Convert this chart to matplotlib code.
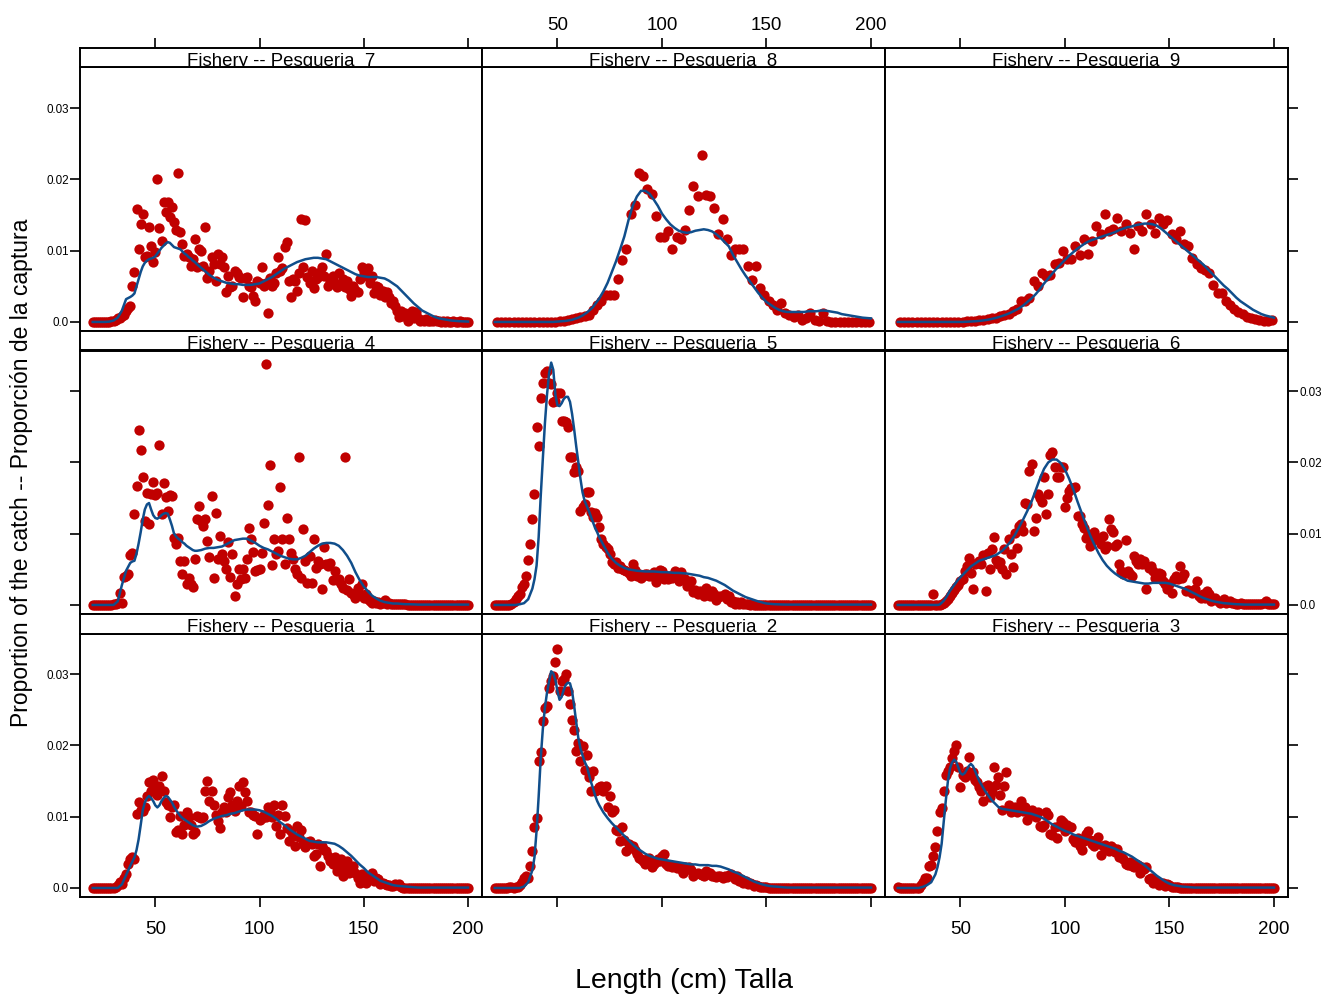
import numpy as np
import matplotlib.pyplot as plt

plt.rcParams['font.family'] = ['Liberation Sans', 'DejaVu Sans']

# length classes (cm)
len_1cm = np.arange(20, 201)          # fisheries 1-7
len_2cm = np.arange(21, 200, 2)       # fisheries 8, 9
len_fit = np.r_[np.arange(20, 39, 2), np.arange(39, 71), np.arange(72, 201, 2)]

obs_f1 = [0, 0, 0, 0, 0, 0, 0, 0, 0, 0, 0.05,
          0.2, 0.4, 0.9, 0.6, 1.4, 1.9, 3.3, 4.0, 4.3, 4.0,
          10.4, 12.1, 11.0, 10.8, 11.3, 12.9, 14.8, 13.6, 15.2, 14.1,
          13.1, 14.3, 15.7, 13.6, 12.0, 11.7, 9.9, 11.3, 11.7, 7.8,
          8.2, 10.1, 7.5, 8.9, 10.6, 9.9, 8.9, 7.6, 7.8, 10.1,
          9.9, 9.8, 9.9, 13.6, 15.0, 12.2, 13.6, 11.7, 10.3, 9.4,
          8.4, 10.6, 11.3, 10.6, 12.7, 13.4, 11.7, 10.8, 12.2, 14.3,
          11.5, 14.8, 13.4, 12.2, 10.6, 10.6, 10.3, 10.1, 7.6, 9.6,
          9.8, 10.3, 9.9, 11.3, 11.0, 9.9, 11.7, 8.7, 10.3, 7.6,
          11.7, 10.1, 8.4, 6.6, 8.0, 7.3, 5.9, 8.7, 7.1, 8.2,
          6.1, 5.7, 6.4, 6.6, 6.1, 4.5, 4.7, 6.1, 3.1, 5.9,
          5.3, 5.2, 4.5, 3.8, 3.3, 4.3, 2.4, 3.3, 4.0, 1.7,
          2.8, 3.8, 2.1, 2.9, 3.1, 2.1, 1.4, 0.7, 1.9, 1.4,
          0.7, 1.7, 1.4, 2.1, 1.0, 1.4, 1.2, 0.5, 0.7, 0.5,
          0.4, 0.4, 0.3, 0.3, 0.5, 0.4, 0.6, 0.1, 0.05, 0,
          0, 0, 0, 0, 0, 0, 0, 0, 0, 0,
          0, 0, 0, 0, 0, 0, 0, 0, 0, 0,
          0, 0, 0, 0, 0, 0, 0, 0, 0, 0]

obs_f2 = [0, 0, 0, 0, 0, 0, 0, 0.2, 0.1, 0.05, 0.1,
          0.2, 0.4, 0.9, 1.4, 1.7, 1.4, 3.1, 5.2, 8.6, 9.8,
          17.8, 19.1, 23.4, 25.3, 25.5, 28.1, 29.0, 29.7, 31.7, 33.5,
          27.7, 29.0, 29.3, 30.0, 27.6, 25.8, 23.6, 22.1, 19.2, 20.3,
          17.8, 19.9, 16.5, 18.7, 15.5, 13.6, 16.4, 13.6, 13.8, 14.1,
          14.3, 13.6, 14.3, 11.3, 12.9, 10.6, 11.0, 8.2, 8.0, 6.6,
          8.6, 6.7, 5.2, 6.1, 5.7, 5.9, 5.3, 4.7, 4.2, 4.0,
          3.8, 3.3, 4.0, 4.2, 2.9, 3.3, 3.6, 4.0, 3.8, 4.5,
          4.7, 3.3, 3.1, 3.2, 2.9, 3.1, 2.8, 2.9, 2.6, 2.1,
          2.9, 2.6, 2.9, 2.5, 1.7, 1.9, 2.1, 1.9, 1.8, 1.7,
          2.4, 1.9, 2.1, 1.7, 1.7, 1.5, 1.7, 1.7, 1.4, 1.7,
          1.5, 1.8, 1.9, 1.7, 1.2, 1.7, 1.0, 1.2, 0.7, 1.0,
          0.5, 0.7, 0.5, 0.3, 0.4, 0.3, 0.2, 0.1, 0.1, 0.1,
          0.05, 0.05, 0, 0, 0, 0, 0, 0, 0, 0,
          0, 0, 0, 0, 0, 0, 0, 0, 0, 0,
          0, 0, 0, 0, 0, 0, 0, 0, 0, 0,
          0, 0, 0, 0, 0, 0, 0, 0, 0, 0,
          0, 0, 0, 0, 0, 0, 0, 0, 0, 0]

obs_f3 = [0.1, 0, 0, 0, 0, 0, 0, 0, 0, 0, 0,
          0.4, 0.9, 1.4, 1.4, 3.1, 3.2, 4.5, 5.7, 8.0, 10.6,
          11.2, 13.6, 15.9, 16.4, 16.9, 18.3, 19.2, 20.0, 16.9, 14.2,
          15.9, 15.5, 16.4, 18.4, 15.9, 16.3, 15.2, 14.8, 14.1, 13.6,
          12.2, 14.3, 14.5, 12.8, 13.4, 16.9, 14.5, 15.5, 13.1, 10.9,
          14.3, 16.3, 11.6, 10.7, 10.9, 11.4, 10.6, 10.9, 12.2, 10.8,
          11.3, 9.6, 10.6, 10.9, 10.2, 9.9, 10.6, 8.7, 8.5, 8.9,
          10.6, 10.3, 7.6, 7.4, 8.5, 7.0, 8.7, 9.6, 9.2, 8.0,
          8.9, 8.5, 8.6, 6.8, 6.4, 7.0, 5.9, 5.3, 6.6, 7.5,
          8.0, 6.7, 6.1, 5.9, 6.7, 7.1, 4.6, 5.9, 6.0, 5.6,
          5.2, 5.9, 5.6, 5.0, 5.4, 4.3, 4.5, 4.0, 3.3, 3.2,
          3.7, 3.1, 2.9, 3.4, 3.2, 2.1, 2.9, 2.6, 2.9, 1.2,
          1.4, 0.7, 1.0, 0.7, 0.4, 0.5, 0.7, 0.3, 0.6, 0.4,
          0.2, 0.2, 0.1, 0.1, 0.05, 0, 0, 0, 0, 0,
          0, 0, 0, 0, 0, 0, 0, 0, 0, 0,
          0, 0, 0, 0, 0, 0, 0, 0, 0, 0,
          0, 0, 0, 0, 0, 0, 0, 0, 0, 0,
          0, 0, 0, 0, 0, 0, 0, 0, 0, 0]

obs_f4 = [0, 0, 0, 0, 0, 0, 0, 0, 0, 0, 0.2,
          0.2, 0.3, 1.7, 0.3, 3.9, 4.1, 4.4, 7.0, 7.3, 12.7,
          16.7, 24.6, 21.8, 17.9, 11.8, 15.7, 11.3, 15.5, 17.3, 15.4,
          15.7, 22.5, 12.7, 17.1, 15.2, 13.2, 15.4, 15.3, 9.4, 8.6,
          9.4, 6.2, 4.3, 6.2, 2.9, 3.8, 3.0, 2.5, 6.5, 12.1,
          13.9, 11.8, 11.1, 12.1, 9.0, 6.7, 15.3, 3.8, 12.9, 6.5,
          9.7, 7.1, 6.2, 5.1, 8.9, 3.9, 7.1, 1.3, 2.9, 5.1,
          3.7, 5.1, 3.8, 6.4, 10.8, 9.2, 7.4, 4.8, 4.9, 5.0,
          7.3, 11.5, 33.8, 14.0, 19.7, 5.6, 9.3, 7.1, 7.6, 16.6,
          9.3, 5.7, 12.2, 9.3, 7.3, 6.4, 5.1, 4.3, 20.7, 3.8,
          10.7, 6.2, 3.1, 6.9, 3.1, 9.3, 5.2, 6.2, 5.7, 2.2,
          8.1, 5.7, 5.5, 5.9, 3.5, 4.8, 3.5, 3.6, 2.9, 2.4,
          20.7, 2.1, 3.7, 1.7, 1.5, 1.0, 2.4, 1.5, 2.9, 1.0,
          1.5, 0.8, 0.6, 0.3, 0.5, 0.3, 0.4, 0.2, 0.3, 0.7,
          0.2, 0.3, 0.2, 0.1, 0.2, 0.1, 0.1, 0.2, 0.1, 0.1,
          0, 0, 0, 0, 0, 0, 0, 0, 0, 0,
          0, 0, 0, 0, 0, 0, 0, 0, 0, 0,
          0, 0, 0, 0, 0, 0, 0, 0, 0, 0]

obs_f5 = [0, 0, 0, 0, 0, 0, 0, 0, 0.1, 0.4, 0.8,
          1.3, 1.5, 2.5, 2.9, 4.0, 6.3, 8.5, 12.1, 15.5, 25.0,
          22.3, 29.0, 31.2, 32.5, 32.8, 31.1, 31.0, 28.5, 28.6, 29.8,
          29.7, 25.8, 25.8, 25.6, 24.9, 20.8, 20.7, 18.6, 19.3, 18.8,
          13.2, 13.7, 14.2, 15.9, 15.8, 13.0, 12.4, 12.9, 12.3, 10.9,
          9.3, 8.6, 8.1, 7.9, 7.1, 6.0, 5.7, 6.0, 5.2, 5.5,
          5.0, 4.9, 4.8, 4.5, 4.1, 5.8, 4.9, 4.1, 4.4, 3.8,
          4.0, 4.3, 4.3, 4.0, 4.1, 4.6, 3.2, 3.9, 4.9, 4.7,
          3.6, 4.1, 3.6, 4.1, 3.8, 4.7, 4.0, 3.4, 4.6, 3.6,
          3.6, 2.7, 2.9, 3.4, 1.8, 2.1, 1.5, 2.0, 1.8, 1.3,
          2.4, 1.6, 1.3, 2.0, 1.5, 0.7, 1.1, 1.3, 1.2, 1.5,
          0.8, 1.3, 0.4, 0.5, 0.2, 0.4, 0.1, 0.4, 0.2, 0.1,
          0.1, 0.05, 0.1, 0, 0, 0.05, 0, 0, 0, 0,
          0, 0, 0, 0, 0, 0, 0, 0, 0, 0,
          0, 0, 0, 0, 0, 0, 0, 0, 0, 0,
          0, 0, 0, 0, 0, 0, 0, 0, 0, 0,
          0, 0, 0, 0, 0, 0, 0, 0, 0, 0,
          0, 0, 0, 0, 0, 0, 0, 0, 0, 0]

obs_f6 = [0, 0, 0, 0, 0, 0, 0, 0, 0, 0, 0,
          0, 0, 0, 0, 0, 0, 1.5, 0, 0, 0,
          0.1, 0.3, 0.5, 0.8, 1.3, 1.7, 2.1, 2.5, 2.8, 3.3,
          3.6, 4.7, 5.5, 6.6, 4.5, 2.2, 5.7, 5.9, 6.2, 5.7,
          7.0, 2.0, 7.3, 5.1, 7.8, 9.5, 6.3, 5.7, 6.0, 5.0,
          7.9, 4.3, 9.2, 7.2, 5.3, 10.1, 8.0, 11.1, 11.3, 10.4,
          14.3, 14.1, 18.8, 19.8, 10.4, 12.2, 15.5, 15.0, 14.5, 17.9,
          12.7, 15.6, 21.1, 21.4, 19.3, 17.9, 17.9, 19.3, 19.3, 13.7,
          15.0, 16.0, 16.4, 16.4, 16.5, 12.5, 12.5, 11.3, 10.8, 9.4,
          10.0, 8.3, 9.0, 10.3, 9.2, 9.4, 8.5, 9.7, 7.8, 8.3,
          12.0, 10.6, 10.3, 8.3, 8.5, 5.7, 4.8, 4.3, 9.1, 4.8,
          4.4, 4.1, 6.9, 6.2, 5.7, 6.4, 5.7, 6.1, 2.3, 5.2,
          5.5, 4.8, 3.8, 4.2, 4.5, 4.3, 3.4, 2.9, 2.2, 2.9,
          1.7, 3.7, 4.1, 3.6, 5.5, 3.8, 4.3, 2.0, 2.1, 2.0,
          1.7, 2.2, 3.4, 1.2, 1.0, 1.5, 1.0, 2.0, 1.5, 0.6,
          0.8, 1.0, 0.6, 0.3, 0.5, 0.8, 0.3, 0.4, 0.5, 0.3,
          0.3, 0.2, 0.2, 0.3, 0.2, 0.1, 0.2, 0.1, 0.1, 0.2,
          0.1, 0.1, 0.1, 0.1, 0.3, 0.5, 0.2, 0.1, 0.1, 0.1]

obs_f7 = [0, 0, 0, 0, 0, 0, 0, 0, 0, 0.1, 0.2,
          0.3, 0.5, 0.6, 0.8, 1.0, 1.5, 2.0, 2.2, 5.0, 7.0,
          15.8, 10.3, 13.8, 15.2, 9.1, 9.3, 13.3, 10.7, 8.4, 9.8,
          20.1, 13.2, 11.4, 16.8, 15.4, 16.8, 14.7, 16.1, 14.0, 12.9,
          20.9, 12.6, 11.0, 9.3, 9.6, 9.1, 7.9, 8.9, 11.7, 7.7,
          10.3, 10.0, 7.9, 13.3, 6.1, 7.2, 9.1, 8.2, 5.8, 9.6,
          8.2, 9.1, 7.7, 4.2, 6.5, 4.9, 5.1, 7.2, 6.8, 6.3,
          6.1, 3.5, 6.1, 6.3, 5.1, 4.9, 3.7, 3.0, 5.8, 5.4,
          7.7, 5.1, 5.4, 1.2, 6.1, 5.1, 5.4, 6.8, 9.1, 7.2,
          7.5, 10.5, 11.2, 5.8, 3.5, 6.0, 5.8, 4.4, 6.8, 14.5,
          7.7, 14.3, 6.3, 5.5, 7.2, 4.7, 6.0, 6.3, 7.0, 7.7,
          6.5, 9.5, 5.1, 5.8, 6.5, 5.5, 4.9, 6.8, 5.2, 6.0,
          4.9, 5.8, 4.6, 3.7, 5.1, 4.5, 4.2, 6.0, 7.7, 7.0,
          6.4, 7.5, 5.4, 6.5, 4.0, 5.0, 4.9, 3.8, 4.4, 3.5,
          4.2, 3.5, 2.6, 3.0, 2.3, 1.5, 0.7, 1.6, 0.9, 1.2,
          0.2, 0.8, 1.6, 0.5, 1.4, 0.6, 0.2, 0.3, 0.1, 0.4,
          0.2, 0.1, 0.1, 0.3, 0.2, 0.1, 0, 0.1, 0, 0.1,
          0, 0, 0.1, 0, 0, 0.1, 0, 0, 0, 0]

obs_f8 = [0, 0, 0, 0, 0, 0, 0, 0, 0, 0,
          0, 0, 0, 0, 0, 0.1, 0.15, 0.3, 0.4, 0.5,
          0.7, 0.9, 1.0, 1.7, 2.4, 2.9, 3.8, 3.8, 3.8, 6.0,
          8.7, 10.3, 15.1, 16.4, 20.9, 20.5, 18.6, 17.9, 14.8, 11.9,
          11.9, 12.8, 10.3, 11.9, 11.6, 12.9, 15.7, 19.1, 17.7, 23.4,
          17.8, 17.7, 16.0, 12.4, 14.4, 11.7, 9.4, 10.2, 10.2, 10.2,
          7.8, 5.9, 7.8, 4.7, 3.8, 2.9, 2.4, 1.7, 2.6, 1.2,
          1.0, 0.7, 1.0, 0.3, 0.5, 1.2, 0.3, 0.1, 1.2, 0.1,
          0, 0, 0, 0, 0, 0, 0, 0, 0, 0]

obs_f9 = [0, 0, 0, 0, 0, 0, 0, 0, 0, 0,
          0, 0, 0, 0, 0.05, 0.05, 0.1, 0.1, 0.2, 0.3,
          0.3, 0.4, 0.5, 0.6, 0.8, 1.0, 1.1, 1.6, 1.8, 2.9,
          3.0, 3.3, 5.8, 5.0, 6.9, 6.4, 6.6, 8.1, 8.3, 9.9,
          8.8, 8.9, 10.7, 9.4, 11.7, 9.6, 11.4, 13.5, 12.3, 15.1,
          12.7, 13.0, 14.6, 12.8, 13.7, 12.5, 10.2, 13.5, 12.8, 15.1,
          13.7, 12.5, 14.6, 13.7, 14.3, 12.4, 11.7, 12.8, 11.0, 10.7,
          9.0, 8.2, 7.6, 7.3, 6.8, 5.2, 4.0, 4.0, 2.9, 2.4,
          1.8, 1.4, 1.1, 0.7, 0.6, 0.4, 0.3, 0.2, 0.2, 0.3]

# fitted (expected) proportion, x 1000, at len_fit
fit_f1 = [0, 0, 0, 0, 0, 0, 0, 0.5, 1.8, 3.1,
          3.7, 4.3, 5.3, 6.8, 8.8, 10.9, 12.0, 12.6, 12.9, 12.6, 12.2, 11.6, 11.3, 11.6, 12.2, 12.6,
          12.9, 12.8, 12.4, 12.0, 11.4, 10.9, 10.5, 10.1, 9.8, 9.6, 9.4, 9.2, 9.0, 8.8, 8.7, 8.6,
          8.7, 9.0, 9.4, 9.7, 9.9, 10.1, 10.2, 10.4, 10.5, 10.7,
          10.9, 11.0, 11.0, 11.0, 10.9, 10.7, 10.4, 10.1, 9.7, 9.2,
          8.8, 8.3, 7.9, 7.5, 7.2, 6.9, 6.6, 6.5, 6.4, 6.4,
          6.4, 6.3, 6.2, 5.9, 5.5, 5.0, 4.5, 3.9, 3.3, 2.8,
          2.2, 1.8, 1.4, 1.0, 0.8, 0.6, 0.4, 0.3, 0.25, 0.2,
          0.15, 0.1, 0.05, 0.05, 0.05, 0.05, 0.05, 0.05, 0.05, 0.05,
          0.05, 0.05, 0.05, 0.05, 0.05]

fit_f2 = [0, 0, 0, 0, 0, 0, 0, 0.2, 0.8, 2.5,
          4.3, 8.0, 12.8, 18.2, 22.3, 25.3, 27.4, 29.0, 30.4, 30.1, 29.2, 27.6, 26.4, 26.8, 27.8, 28.5,
          28.8, 28.7, 27.6, 25.5, 23.2, 21.0, 19.6, 18.6, 17.7, 17.1, 16.0, 14.9, 14.0, 13.0, 12.2, 11.6,
          10.6, 9.8, 9.1, 8.5, 7.9, 7.3, 6.7, 6.1, 5.6, 5.2,
          4.8, 4.5, 4.3, 4.1, 4.0, 3.9, 3.8, 3.7, 3.6, 3.5,
          3.4, 3.3, 3.3, 3.2, 3.2, 3.2, 3.1, 3.1, 3.0, 2.8,
          2.6, 2.3, 2.1, 1.8, 1.5, 1.2, 0.9, 0.7, 0.5, 0.35,
          0.25, 0.2, 0.15, 0.1, 0.05, 0.05, 0.05, 0.05, 0.05, 0.05,
          0.05, 0.05, 0.05, 0.05, 0.05, 0.05, 0.05, 0.05, 0.05, 0.05,
          0.05, 0.05, 0.05, 0.05, 0.05]

fit_f3 = [0, 0, 0, 0, 0, 0, 0.15, 0.4, 0.8, 1.9,
          2.9, 4.3, 6.2, 9.3, 12.3, 15.0, 16.8, 17.6, 18.0, 17.7, 16.9, 16.1, 15.9, 16.1, 16.6, 17.1,
          17.4, 17.1, 16.4, 15.7, 15.0, 14.5, 14.0, 13.5, 13.1, 12.7, 12.3, 12.0, 11.7, 11.4, 11.2, 11.1,
          11.0, 10.9, 10.8, 10.7, 10.6, 10.5, 10.4, 10.2, 10.0, 9.7,
          9.3, 8.9, 8.6, 8.3, 8.0, 7.8, 7.5, 7.3, 7.1, 6.9,
          6.7, 6.5, 6.3, 6.1, 5.9, 5.7, 5.5, 5.2, 5.0, 4.7,
          4.4, 4.0, 3.6, 3.2, 2.7, 2.2, 1.7, 1.3, 0.9, 0.6,
          0.4, 0.3, 0.2, 0.15, 0.1, 0.05, 0.05, 0.05, 0.05, 0.05,
          0.05, 0.05, 0.05, 0.05, 0.05, 0.05, 0.05, 0.05, 0.05, 0.05,
          0.05, 0.05, 0.05, 0.05, 0.05]

fit_f4 = [0, 0, 0, 0, 0, 0, 0.5, 2.8, 4.8, 5.9,
          6.1, 6.2, 7.2, 8.6, 10.2, 12.0, 13.4, 14.1, 14.3, 13.4, 12.6, 12.2, 12.1, 12.3, 12.6, 12.8,
          12.9, 12.8, 12.0, 11.1, 10.0, 9.6, 9.3, 9.1, 8.8, 8.6, 8.3, 8.1, 7.9, 7.7, 7.6, 7.6,
          7.7, 7.9, 8.0, 8.0, 8.1, 8.2, 8.5, 8.8, 9.1, 9.2,
          9.3, 9.3, 9.0, 8.7, 8.3, 8.0, 7.8, 7.5, 7.2, 6.9,
          6.7, 6.5, 6.4, 6.4, 6.6, 6.9, 7.4, 7.9, 8.3, 8.6,
          8.7, 8.7, 8.6, 8.3, 7.7, 6.9, 5.9, 4.6, 3.5, 2.6,
          1.9, 1.3, 0.9, 0.6, 0.4, 0.3, 0.2, 0.2, 0.15, 0.1,
          0.1, 0.08, 0.05, 0.05, 0.05, 0.05, 0.05, 0.05, 0.05, 0.05,
          0.05, 0.05, 0.05, 0.05, 0.05]

fit_f5 = [0, 0, 0, 0, 0, 0, 0.1, 0.25, 0.8, 2.3,
          3.6, 5.5, 9.5, 15.3, 20.5, 25.5, 29.5, 32.5, 34.0, 33.0, 29.5, 28.0, 27.9, 28.3, 28.9, 29.2,
          29.2, 28.5, 26.8, 24.6, 22.2, 20.0, 17.7, 15.8, 14.6, 13.9, 13.2, 12.4, 11.6, 10.8, 10.2, 9.5,
          8.4, 7.3, 6.5, 5.9, 5.5, 5.2, 5.0, 4.9, 4.8, 4.75,
          4.7, 4.7, 4.7, 4.65, 4.6, 4.6, 4.55, 4.5, 4.5, 4.45,
          4.4, 4.3, 4.2, 4.1, 3.9, 3.8, 3.6, 3.4, 3.1, 2.8,
          2.4, 2.0, 1.7, 1.4, 1.1, 0.9, 0.7, 0.5, 0.35, 0.2,
          0.15, 0.1, 0.08, 0.06, 0.05, 0.05, 0.05, 0.05, 0.05, 0.05,
          0.05, 0.05, 0.05, 0.05, 0.05, 0.05, 0.05, 0.05, 0.05, 0.05,
          0.05, 0.05, 0.05, 0.05, 0.05]

fit_f6 = [0, 0, 0, 0, 0, 0, 0, 0, 0, 0,
          0, 0.05, 0.3, 0.6, 1.0, 1.5, 2.0, 2.4, 2.8, 3.2, 3.6, 3.9, 4.2, 4.5, 4.8, 5.1,
          5.4, 5.6, 5.8, 6.0, 6.2, 6.3, 6.4, 6.5, 6.6, 6.7, 6.8, 6.9, 7.0, 7.2, 7.4, 7.6,
          8.2, 8.9, 9.8, 10.9, 12.0, 13.2, 14.5, 16.1, 17.7, 19.1,
          20.0, 20.4, 20.4, 19.9, 19.0, 17.7, 16.2, 14.5, 12.9, 11.3,
          9.8, 8.5, 7.3, 6.3, 5.5, 4.9, 4.4, 4.0, 3.7, 3.4,
          3.3, 3.2, 3.1, 3.0, 3.0, 3.1, 3.1, 3.1, 3.1, 3.0,
          2.8, 2.6, 2.4, 2.2, 1.9, 1.6, 1.3, 1.0, 0.8, 0.6,
          0.45, 0.35, 0.25, 0.2, 0.15, 0.1, 0.08, 0.05, 0.05, 0.05,
          0.05, 0.05, 0.05, 0.05, 0.05]

fit_f7 = [0, 0, 0, 0, 0.05, 0.2, 0.6, 1.6, 3.2, 3.5,
          3.7, 4.0, 5.0, 6.0, 7.0, 7.8, 8.3, 8.6, 8.8, 8.9, 9.0, 9.2, 9.6, 10.0, 10.4, 10.7,
          11.0, 11.2, 11.1, 10.8, 10.5, 10.4, 10.3, 10.2, 9.9, 9.6, 9.4, 9.1, 8.9, 8.6, 8.4, 8.1,
          7.6, 7.1, 6.6, 6.2, 5.9, 5.7, 5.5, 5.4, 5.3, 5.3,
          5.2, 5.2, 5.2, 5.3, 5.4, 5.7, 6.0, 6.3, 6.7, 7.1,
          7.5, 7.8, 8.1, 8.4, 8.6, 8.8, 8.9, 9.0, 9.0, 8.9,
          8.8, 8.5, 8.2, 7.9, 7.6, 7.3, 7.0, 6.7, 6.5, 6.4,
          6.3, 6.3, 6.3, 6.2, 6.1, 5.8, 5.4, 5.0, 4.4, 3.8,
          3.2, 2.6, 2.1, 1.6, 1.3, 1.0, 0.7, 0.5, 0.4, 0.3,
          0.2, 0.15, 0.1, 0.08, 0.05]

fit_f8 = [0, 0, 0, 0, 0, 0, 0, 0, 0, 0,
          0, 0, 0, 0, 0, 0, 0, 0, 0, 0, 0.03, 0.05, 0.07, 0.1, 0.12, 0.15,
          0.2, 0.25, 0.3, 0.4, 0.5, 0.6, 0.75, 0.9, 1.1, 1.3, 1.55, 1.8, 2.1, 2.5, 2.9, 3.3,
          4.3, 5.5, 7.0, 8.5, 10.2, 12.0, 14.3, 16.3, 17.6, 18.4,
          18.4, 18.0, 17.2, 16.3, 15.2, 14.4, 13.7, 13.2, 12.8, 12.6,
          12.5, 12.6, 12.8, 12.9, 13.0, 12.9, 12.7, 12.3, 11.8, 11.2,
          10.6, 9.4, 8.4, 7.4, 6.5, 5.7, 4.9, 4.1, 3.4, 2.8,
          2.4, 2.0, 1.7, 1.5, 1.4, 1.4, 1.4, 1.4, 1.4, 1.5,
          1.5, 1.5, 1.6, 1.6, 1.5, 1.4, 1.3, 1.1, 1.0, 0.9,
          0.8, 0.7, 0.6, 0.55, 0.5]

fit_f9 = [0, 0, 0, 0, 0, 0, 0, 0, 0, 0,
          0, 0, 0, 0, 0, 0, 0, 0, 0, 0, 0, 0, 0, 0.02, 0.03, 0.05,
          0.06, 0.08, 0.1, 0.12, 0.15, 0.18, 0.22, 0.26, 0.31, 0.36, 0.43, 0.5, 0.57, 0.65, 0.75, 0.85,
          1.05, 1.3, 1.6, 1.9, 2.3, 2.8, 3.3, 3.9, 4.6, 5.4,
          6.1, 6.8, 7.5, 8.1, 8.7, 9.3, 9.8, 10.3, 10.7, 11.1,
          11.4, 11.6, 11.8, 12.0, 12.2, 12.4, 12.6, 12.9, 13.1, 13.3,
          13.4, 13.6, 13.7, 13.8, 13.8, 13.7, 13.5, 13.1, 12.6, 12.1,
          11.6, 11.1, 10.6, 10.1, 9.6, 9.1, 8.6, 8.1, 7.5, 6.9,
          6.3, 5.7, 5.1, 4.6, 4.0, 3.4, 2.9, 2.5, 2.1, 1.7,
          1.4, 1.1, 0.9, 0.75, 0.6]

observed = {1: (len_1cm, obs_f1), 2: (len_1cm, obs_f2), 3: (len_1cm, obs_f3),
            4: (len_1cm, obs_f4), 5: (len_1cm, obs_f5), 6: (len_1cm, obs_f6),
            7: (len_1cm, obs_f7), 8: (len_2cm, obs_f8), 9: (len_2cm, obs_f9)}
fitted = {1: fit_f1, 2: fit_f2, 3: fit_f3, 4: fit_f4, 5: fit_f5,
          6: fit_f6, 7: fit_f7, 8: fit_f8, 9: fit_f9}
layout = [[7, 8, 9], [4, 5, 6], [1, 2, 3]]

W, H = 1322, 997
col_left = [80, 482, 885]
col_w = [402, 403, 403]
row_top = [48, 331, 614]
strip_h = 19.5
pan_h = 263.5
dot_col = '#C00000'
line_col = '#104E8B'

fig = plt.figure(figsize=(W / 100, H / 100), dpi=100)

for r in range(3):
    for c in range(3):
        n = layout[r][c]
        ax = fig.add_axes([col_left[c] / W, (H - row_top[r] - strip_h - pan_h) / H,
                           col_w[c] / W, pan_h / H])
        sx = fig.add_axes([col_left[c] / W, (H - row_top[r] - strip_h) / H,
                           col_w[c] / W, strip_h / H], sharex=ax)

        x, y = observed[n]
        ax.plot(x, np.array(y) / 1000, 'o', ms=7.4, mfc=dot_col, mec='none', zorder=2)
        ax.plot(len_fit, np.array(fitted[n]) / 1000, color=line_col, lw=1.8, zorder=3)

        ax.set_xlim(13.9, 206.7)
        ax.set_ylim(-0.00127, 0.0357)
        ax.set_xticks([50, 100, 150, 200])
        ax.set_yticks([0, 0.01, 0.02, 0.03])
        ax.set_yticklabels(['0.0', '0.01', '0.02', '0.03'])

        for a in (ax, sx):
            for s in a.spines.values():
                s.set_linewidth(1.4)
            a.tick_params(which='both', direction='out', length=7.2, width=1.2,
                          bottom=False, top=False, left=False, right=False,
                          labelbottom=False, labeltop=False,
                          labelleft=False, labelright=False)
        ax.tick_params(axis='x', labelsize=13.5, pad=10)
        ax.tick_params(axis='y', labelsize=8.4, pad=0.8)
        sx.set_ylim(0, 1)
        sx.tick_params(axis='x', labelsize=13.5, pad=3)

        if r == 2:
            ax.tick_params(axis='x', bottom=True, labelbottom=(c != 1))
        if r == 0:
            sx.tick_params(axis='x', top=True, labeltop=(c == 1))
        if c == 0:
            ax.tick_params(axis='y', left=True, labelleft=(r != 1))
        if c == 2:
            ax.tick_params(axis='y', right=True, labelright=(r == 1))

        sx.text(0.5, 0.07, 'Fishery -- Pesqueria_%d' % n, transform=sx.transAxes,
                ha='center', va='baseline', fontsize=13.4, clip_on=True)

fig.text(22 / W, 1 - 473 / H, 'Proportion of the catch -- Proporción de la captura',
         rotation=90, ha='center', va='center', fontsize=16.5)
fig.text(684 / W, 1 - 981 / H, 'Length (cm) Talla', ha='center', va='center', fontsize=20.5)

fig.savefig('out.png', dpi=100)
